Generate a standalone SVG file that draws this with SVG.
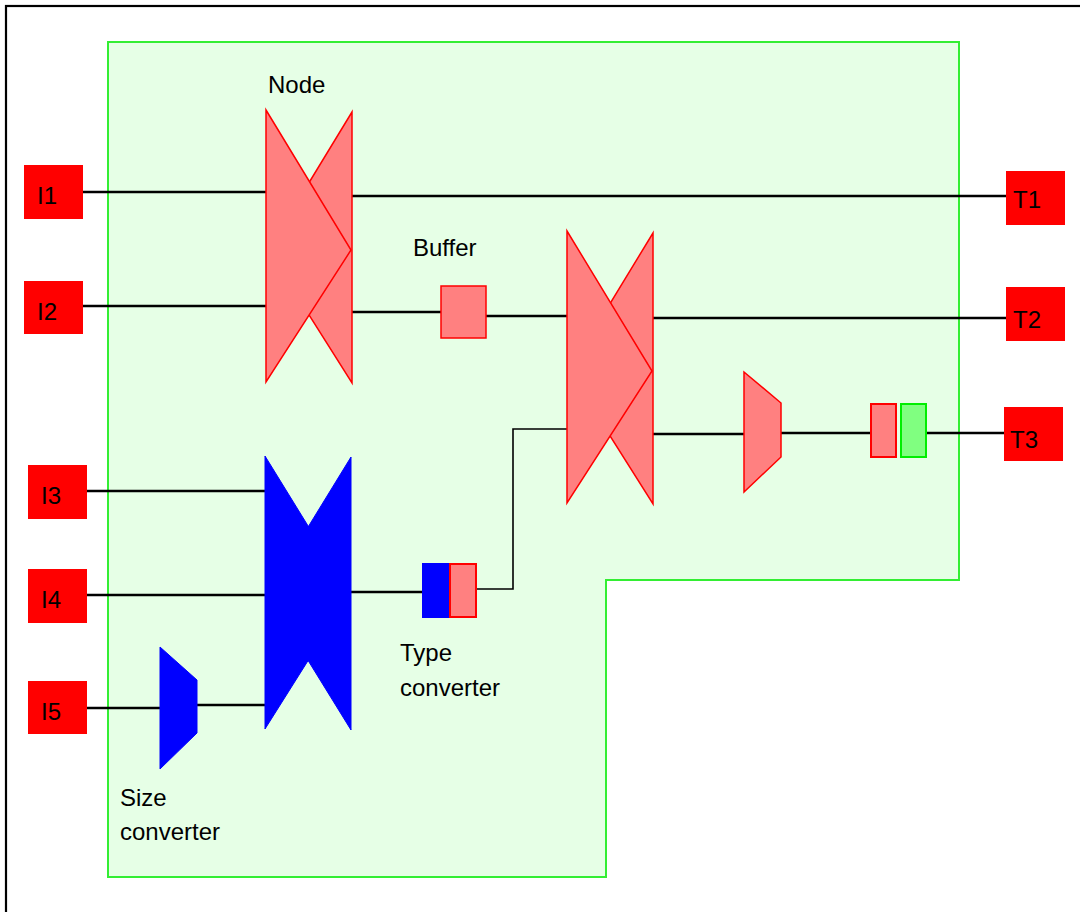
<svg xmlns="http://www.w3.org/2000/svg" width="1080" height="912" viewBox="0 0 1080 912">
<style>
text{font-family:"Liberation Sans",Arial,sans-serif;font-size:24px;fill:#000}
.port{fill:#ff0000}
.pk{fill:#ff8080;stroke:#ff0000;stroke-width:1.5;stroke-linejoin:miter}
.bl{fill:#0000ff;stroke:#0000ff;stroke-width:1}
.w{stroke:#000;stroke-width:2.6;fill:none}
.thin{stroke:#000;stroke-width:1.6;fill:none}
</style>
<rect x="0" y="0" width="1080" height="912" fill="#fff"/>
<rect x="6" y="6" width="1100" height="930" fill="none" stroke="#000" stroke-width="2.2"/>
<polygon id="region" points="108,42 959,42 959,580 606,580 606,877 108,877" fill="#e6ffe6" stroke="#33ee33" stroke-width="2"/>
<g id="connectors">
<line class="w" x1="83" y1="192" x2="266" y2="192"/>
<line class="w" x1="83" y1="306" x2="266" y2="306"/>
<line class="w" x1="352" y1="196" x2="1006" y2="196"/>
<line class="w" x1="352" y1="312" x2="441" y2="312"/>
<line class="w" x1="486" y1="316" x2="567" y2="316"/>
<line class="w" x1="652" y1="318" x2="1006" y2="318"/>
<line class="w" x1="652" y1="434" x2="744" y2="434"/>
<line class="w" x1="781" y1="433" x2="871" y2="433"/>
<line class="w" x1="926" y1="433" x2="1004" y2="433"/>
<polyline class="thin" points="477,589 513,589 513,429 567,429"/>
<line class="w" x1="87" y1="491" x2="265" y2="491"/>
<line class="w" x1="87" y1="595" x2="265" y2="595"/>
<line class="w" x1="351" y1="592" x2="422" y2="592"/>
<line class="w" x1="87" y1="708" x2="160" y2="708"/>
<line class="w" x1="197" y1="705" x2="265" y2="705"/>
</g>
<g id="I1"><rect class="port" x="24" y="165" width="59" height="54"/><text x="37" y="204">I1</text></g>
<g id="I2"><rect class="port" x="24" y="281" width="59" height="53"/><text x="37" y="320">I2</text></g>
<g id="I3"><rect class="port" x="28" y="465" width="59" height="54"/><text x="41" y="504">I3</text></g>
<g id="I4"><rect class="port" x="28" y="569" width="59" height="54"/><text x="41" y="608">I4</text></g>
<g id="I5"><rect class="port" x="28" y="681" width="59" height="53"/><text x="41" y="720">I5</text></g>
<g id="T1"><rect class="port" x="1006" y="171" width="59" height="54"/><text x="1013" y="208">T1</text></g>
<g id="T2"><rect class="port" x="1006" y="287" width="59" height="54"/><text x="1013" y="328">T2</text></g>
<g id="T3"><rect class="port" x="1004" y="407" width="59" height="54"/><text x="1010" y="448">T3</text></g>
<g id="node1">
<polygon class="pk" points="352,112 268,250 352,383"/>
<polygon class="pk" points="266,110 351,250 266,382"/>
<text x="268" y="93">Node</text>
</g>
<g id="buffer">
<rect class="pk" x="441" y="286" width="45" height="52"/>
<text x="413" y="256">Buffer</text>
</g>
<g id="node2">
<polygon class="pk" points="653,233 569,371 653,504"/>
<polygon class="pk" points="567,231 652,371 567,503"/>
</g>
<g id="node3">
<polygon class="bl" points="351,457 267,594 351,730"/>
<polygon class="bl" points="265,456 350,594 265,729"/>
</g>
<g id="typeconv">
<rect x="422" y="563" width="28" height="55" fill="#0000ff"/>
<rect x="450" y="564" width="26" height="53" fill="#ff8080" stroke="#ff0000" stroke-width="2"/>
<text x="400" y="661">Type</text>
<text x="400" y="696">converter</text>
</g>
<g id="sizeconv1">
<polygon class="bl" points="160,647 197,680 197,733 160,769"/>
<text x="120" y="806">Size</text>
<text x="120" y="840">converter</text>
</g>
<g id="sizeconv2">
<polygon class="pk" points="744,372 781,403 781,457 744,492"/>
</g>
<g id="buf2"><rect x="871" y="404" width="25" height="53" fill="#ff8080" stroke="#ff0000" stroke-width="2"/></g>
<g id="buf3"><rect x="901" y="404" width="25" height="53" fill="#80ff80" stroke="#00ee00" stroke-width="2"/></g>
</svg>
